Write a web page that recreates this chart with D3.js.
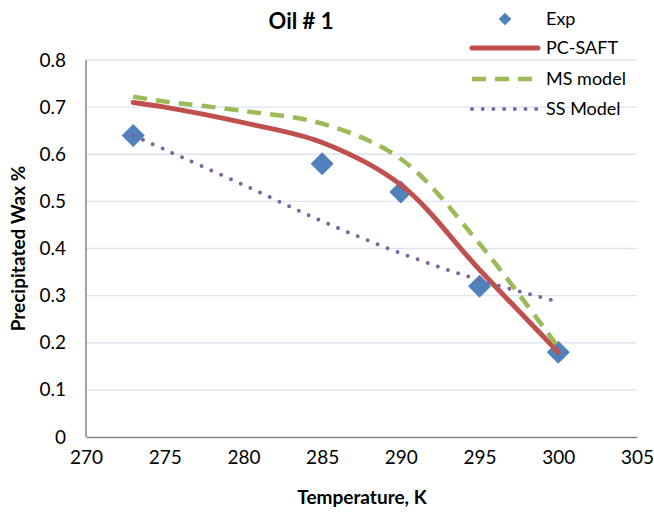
<!DOCTYPE html>
<html>
<head>
<meta charset="utf-8">
<script src="https://cdn.jsdelivr.net/npm/d3@7"></script>
<style>
  body { margin: 0; background: #fff; }
  text { font-family: Lato, "Open Sans", sans-serif; fill: #000; }
</style>
</head>
<body>
<div class="app"></div>
<script>
// chart data
var expTemp = [273, 285, 290, 295, 300];
var expWax = [0.64, 0.58, 0.52, 0.32, 0.18];

var modelTemp = [273, 275, 280, 285, 290, 295, 300];
var pcSaft = [0.71, 0.70, 0.667, 0.625, 0.535, 0.355, 0.18];
var msModel = [0.722, 0.712, 0.692, 0.665, 0.59, 0.41, 0.19];
var ssModel = [0.64, 0.61, 0.535, 0.458, 0.39, 0.333, 0.287];

var xTicks = [270, 275, 280, 285, 290, 295, 300, 305];
var yTicks = [0, 0.1, 0.2, 0.3, 0.4, 0.5, 0.6, 0.7, 0.8];

var legendNames = ["Exp", "PC-SAFT", "MS model", "SS Model"];

var width = 654, height = 512;
var margin = {top: 60, right: 17, bottom: 75, left: 86};

var x = d3.scaleLinear().domain([270, 305]).range([margin.left, width - margin.right]);
var y = d3.scaleLinear().domain([0, 0.8]).range([height - margin.bottom, margin.top]);

var svg = d3.select(".app").append("svg")
    .attr("width", width)
    .attr("height", height);

// gridlines
svg.append("g").selectAll("line")
    .data(yTicks.slice(1))
    .enter().append("line")
    .attr("x1", x(270)).attr("x2", x(305))
    .attr("y1", function(d) { return y(d); })
    .attr("y2", function(d) { return y(d); })
    .attr("stroke", "#dce4ef")
    .attr("stroke-width", 1.3);

// axes
var xAxis = svg.append("g")
    .attr("transform", "translate(0," + y(0) + ")")
    .call(d3.axisBottom(x).tickValues(xTicks).tickSize(0).tickPadding(14));
var yAxis = svg.append("g")
    .attr("transform", "translate(" + x(270) + ",0)")
    .call(d3.axisLeft(y).tickValues(yTicks).tickSize(0).tickPadding(20)
      .tickFormat(function(d) { return d === 0 ? "0" : d3.format(".1f")(d); }));

[xAxis, yAxis].forEach(function(a) {
  a.select(".domain").attr("stroke", "#878787").attr("stroke-width", 1.5);
  a.selectAll("text").style("font-size", "19px").style("font-family", "Lato, sans-serif");
});
yAxis.select(".domain").attr("d", "M0," + y(0) + "V" + y(0.8));

// markers for experimental data
var diamond = d3.symbol().type(d3.symbolSquare);
svg.append("g").selectAll("path")
    .data(expTemp)
    .enter().append("path")
    .attr("d", diamond.size(265))
    .attr("fill", "#4f81bd")
    .attr("transform", function(d, i) {
      return "translate(" + x(d) + "," + y(expWax[i]) + ")rotate(45)";
    });

var line = d3.line()
    .x(function(d) { return x(d[0]); })
    .y(function(d) { return y(d[1]); })
    .curve(d3.curveCatmullRom.alpha(0.5));

function series(vals) {
  return modelTemp.map(function(t, i) { return [t, vals[i]]; });
}

var styles = [
  {vals: pcSaft, color: "#c0504d", w: 5, dash: null, cap: "round"},
  {vals: msModel, color: "#9bbb59", w: 4.5, dash: "14,9", cap: "butt"},
  {vals: ssModel, color: "#8064a2", w: 4, dash: "0,10.7", cap: "round"}
];

styles.forEach(function(s) {
  svg.append("path")
      .datum(series(s.vals))
      .attr("fill", "none")
      .attr("stroke", s.color)
      .attr("stroke-width", s.w)
      .attr("stroke-linecap", s.cap)
      .attr("stroke-dasharray", s.dash)
      .attr("d", line);
});

// title
svg.append("text")
    .attr("x", 301).attr("y", 29)
    .attr("text-anchor", "middle")
    .style("font-size", "22px").style("font-weight", "bold")
    .text("Oil # 1");

// axis titles
svg.append("text")
    .attr("text-anchor", "middle")
    .attr("transform", "translate(25," + ((y(0) + y(0.8)) / 2) + ")rotate(-90)")
    .style("font-size", "19px").style("font-weight", "bold")
    .text("Precipitated Wax %");

svg.append("text")
    .attr("text-anchor", "middle")
    .attr("x", 362).attr("y", 504)
    .style("font-size", "19px").style("font-weight", "bold")
    .text("Temperature, K");

// legend
var legend = svg.append("g");
var legendY = [19, 48, 79, 109];
legend.append("path")
    .attr("d", diamond.size(80))
    .attr("fill", "#4f81bd")
    .attr("transform", "translate(505," + legendY[0] + ")rotate(45)");
styles.forEach(function(s, i) {
  legend.append("line")
      .attr("x1", 472).attr("x2", 538)
      .attr("y1", legendY[i + 1]).attr("y2", legendY[i + 1])
      .attr("stroke", s.color)
      .attr("stroke-width", s.w)
      .attr("stroke-linecap", s.cap)
      .attr("stroke-dasharray", s.dash);
});
legend.selectAll("text")
    .data(legendNames)
    .enter().append("text")
    .attr("x", 546)
    .attr("y", function(d, i) { return legendY[i] + 6; })
    .style("font-size", "18px")
    .text(function(d) { return d; });
</script>
</body>
</html>
